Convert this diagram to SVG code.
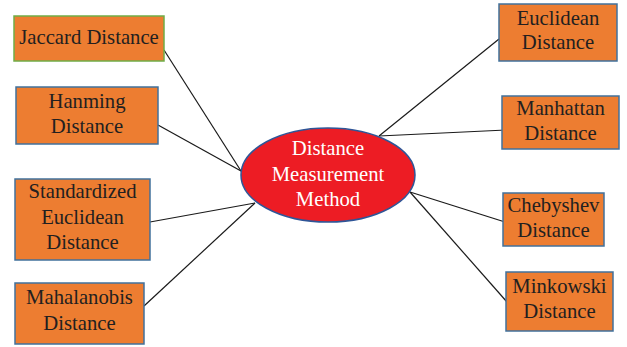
<svg xmlns="http://www.w3.org/2000/svg" width="627" height="347" viewBox="0 0 627 347">
  <style>
    .box { fill: #ED7D31; stroke: #41719C; stroke-width: 1.5; }
    .box.green { stroke: #70AD47; }
    .hub { fill: #ED1C24; stroke: #2F5597; stroke-width: 1.5; }
    .lbl { font-family: "Liberation Serif", "Times New Roman", serif; font-size: 20.7px; fill: #231F20; text-anchor: middle; }
    .hubtxt { fill: #FFFFFF; }
    .edge { stroke: #1A1A1A; stroke-width: 1.2; fill: none; }
  </style>
  <rect width="627" height="347" fill="#FFFFFF"/>

  <g id="connectors">
    <line class="edge" x1="164" y1="50" x2="241" y2="171"/>
    <line class="edge" x1="158" y1="125" x2="241" y2="171"/>
    <line class="edge" x1="150" y1="222" x2="255" y2="203"/>
    <line class="edge" x1="144" y1="306" x2="255" y2="203"/>
    <line class="edge" x1="499" y1="39" x2="379" y2="136"/>
    <line class="edge" x1="506" y1="130" x2="379" y2="136"/>
    <line class="edge" x1="410" y1="192" x2="505" y2="222"/>
    <line class="edge" x1="410" y1="192" x2="507" y2="302"/>
  </g>

  <g id="hub">
    <ellipse class="hub" cx="328" cy="175" rx="87" ry="47"/>
    <text class="lbl hubtxt" x="328" y="155">Distance</text>
    <text class="lbl hubtxt" x="328" y="181">Measurement</text>
    <text class="lbl hubtxt" x="328" y="206">Method</text>
  </g>

  <g id="jaccard">
    <rect class="box green" x="14" y="16" width="150" height="45"/>
    <text class="lbl" x="89" y="44">Jaccard Distance</text>
  </g>

  <g id="hanming">
    <rect class="box" x="16" y="87" width="142" height="57"/>
    <text class="lbl" x="87" y="108">Hanming</text>
    <text class="lbl" x="87" y="133">Distance</text>
  </g>

  <g id="standardized-euclidean">
    <rect class="box" x="15" y="179" width="135" height="81"/>
    <text class="lbl" x="82.5" y="198">Standardized</text>
    <text class="lbl" x="82.5" y="224">Euclidean</text>
    <text class="lbl" x="82.5" y="249">Distance</text>
  </g>

  <g id="mahalanobis">
    <rect class="box" x="15" y="283" width="129" height="61"/>
    <text class="lbl" x="79.5" y="304">Mahalanobis</text>
    <text class="lbl" x="79.5" y="330">Distance</text>
  </g>

  <g id="euclidean">
    <rect class="box" x="499" y="4" width="118" height="57"/>
    <text class="lbl" x="558" y="25">Euclidean</text>
    <text class="lbl" x="558" y="49">Distance</text>
  </g>

  <g id="manhattan">
    <rect class="box" x="502" y="96" width="117" height="53"/>
    <text class="lbl" x="560.5" y="115">Manhattan</text>
    <text class="lbl" x="560.5" y="140">Distance</text>
  </g>

  <g id="chebyshev">
    <rect class="box" x="503" y="193" width="101" height="53"/>
    <text class="lbl" x="553.5" y="212">Chebyshev</text>
    <text class="lbl" x="553.5" y="237">Distance</text>
  </g>

  <g id="minkowski">
    <rect class="box" x="506" y="272" width="107" height="59"/>
    <text class="lbl" x="559.5" y="293">Minkowski</text>
    <text class="lbl" x="559.5" y="318">Distance</text>
  </g>
</svg>
